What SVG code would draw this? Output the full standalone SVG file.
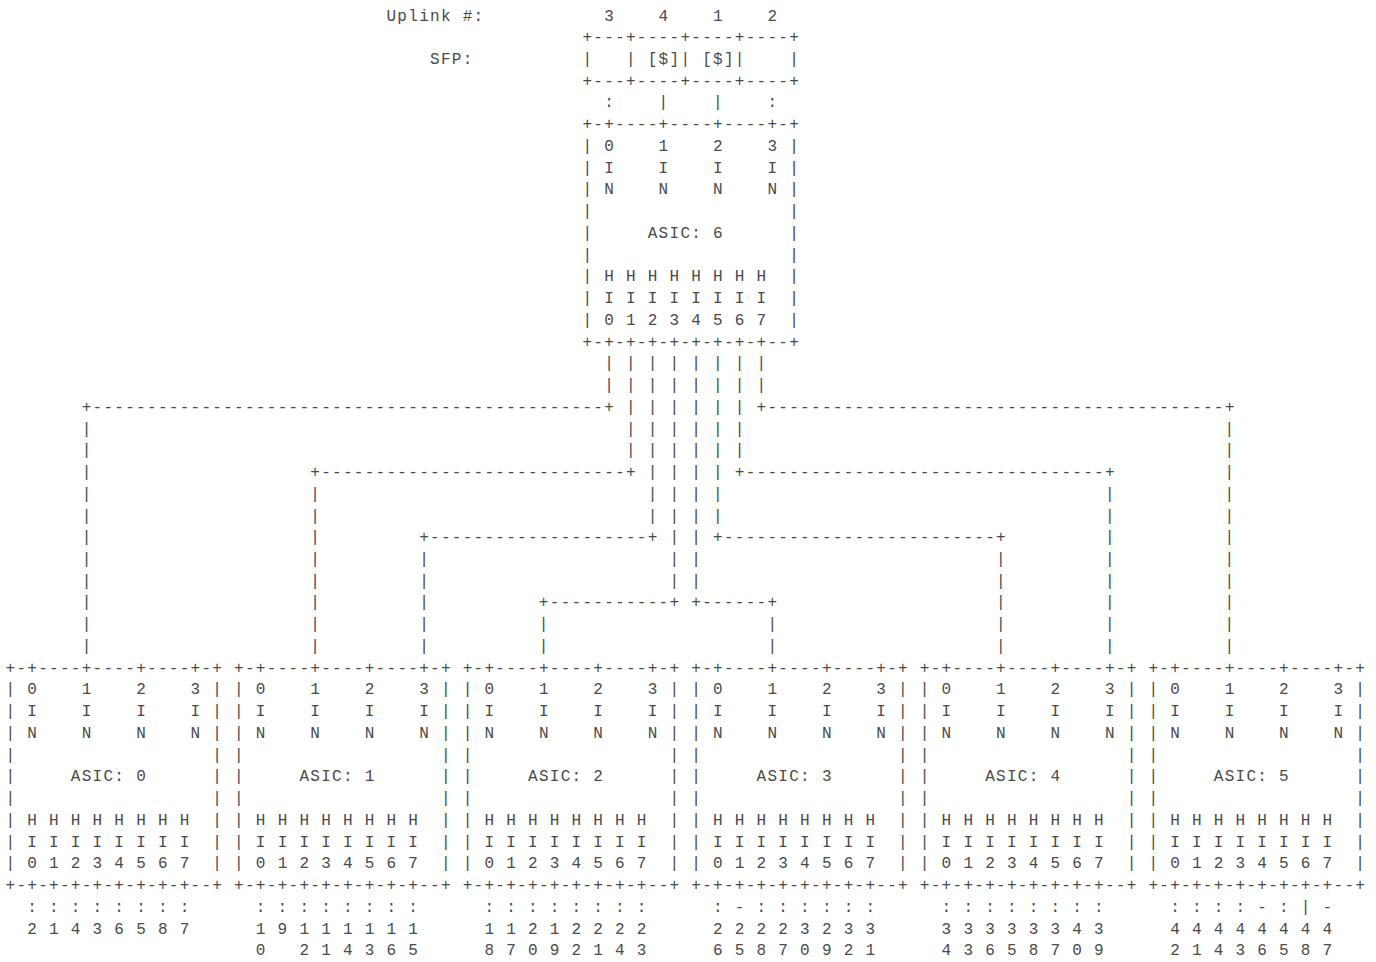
<svg xmlns="http://www.w3.org/2000/svg" width="1376" height="962" viewBox="0 0 1376 962" xml:space="preserve">
<style>
text { font-family: "Liberation Mono", "DejaVu Sans Mono", monospace; font-size: 16px; letter-spacing: 1.285px; fill: #4a4a4a; white-space: pre; }
</style>
<rect width="1376" height="962" fill="#ffffff"/>
<g id="labels">
<text x="386.48" y="20.5">Uplink #:</text>
<text x="604.18" y="20.5">3    4    1    2</text>
<text x="430.02" y="63.98">SFP:</text>
</g>
<g id="sfp" transform="translate(582.41,0)">
<text x="0" y="42.24">+---+----+----+----+</text>
<text x="0" y="63.98">|   | [$]| [$]|    |</text>
<text x="0" y="85.72">+---+----+----+----+</text>
</g>
<g id="asic6" transform="translate(582.41,129.2)">
<text x="0" y="0">+-+----+----+----+-+</text>
<text x="0" y="21.74">| 0    1    2    3 |</text>
<text x="0" y="43.48">| I    I    I    I |</text>
<text x="0" y="65.22">| N    N    N    N |</text>
<text x="0" y="86.96">|                  |</text>
<text x="0" y="108.7">|     ASIC: 6      |</text>
<text x="0" y="130.44">|                  |</text>
<text x="0" y="152.18">| H H H H H H H H  |</text>
<text x="0" y="173.92">| I I I I I I I I  |</text>
<text x="0" y="195.66">| 0 1 2 3 4 5 6 7  |</text>
<text x="0" y="217.4">+-+-+-+-+-+-+-+-+--+</text>
</g>
<g id="connectors">
<text x="604.18" y="107.46">:    |    |    :</text>
<text x="604.18" y="368.34">| | | | | | | |</text>
<text x="604.18" y="390.08">| | | | | | | |</text>
<text x="81.7" y="411.82">+-----------------------------------------------+</text>
<text x="625.95" y="411.82">| | | | | |</text>
<text x="756.57" y="411.82">+------------------------------------------+</text>
<text x="81.7" y="433.56">|</text><text x="625.95" y="433.56">| | | | | |</text><text x="1224.62" y="433.56">|</text>
<text x="81.7" y="455.3">|</text><text x="625.95" y="455.3">| | | | | |</text><text x="1224.62" y="455.3">|</text>
<text x="81.7" y="477.04">|</text>
<text x="310.28" y="477.04">+----------------------------+</text>
<text x="647.72" y="477.04">| | | |</text>
<text x="734.8" y="477.04">+---------------------------------+</text>
<text x="1224.62" y="477.04">|</text>
<text x="81.7" y="498.78">|</text><text x="310.28" y="498.78">|</text><text x="647.72" y="498.78">| | | |</text><text x="1104.89" y="498.78">|</text><text x="1224.62" y="498.78">|</text>
<text x="81.7" y="520.52">|</text><text x="310.28" y="520.52">|</text><text x="647.72" y="520.52">| | | |</text><text x="1104.89" y="520.52">|</text><text x="1224.62" y="520.52">|</text>
<text x="81.7" y="542.26">|</text><text x="310.28" y="542.26">|</text>
<text x="419.13" y="542.26">+--------------------+</text>
<text x="669.49" y="542.26">| |</text>
<text x="713.03" y="542.26">+-------------------------+</text>
<text x="1104.89" y="542.26">|</text><text x="1224.62" y="542.26">|</text>
<text x="81.7" y="564">|</text><text x="310.28" y="564">|</text><text x="419.13" y="564">|</text><text x="669.49" y="564">| |</text><text x="996.04" y="564">|</text><text x="1104.89" y="564">|</text><text x="1224.62" y="564">|</text>
<text x="81.7" y="585.74">|</text><text x="310.28" y="585.74">|</text><text x="419.13" y="585.74">|</text><text x="669.49" y="585.74">| |</text><text x="996.04" y="585.74">|</text><text x="1104.89" y="585.74">|</text><text x="1224.62" y="585.74">|</text>
<text x="81.7" y="607.48">|</text><text x="310.28" y="607.48">|</text><text x="419.13" y="607.48">|</text>
<text x="538.87" y="607.48">+-----------+</text>
<text x="691.26" y="607.48">+------+</text>
<text x="996.04" y="607.48">|</text><text x="1104.89" y="607.48">|</text><text x="1224.62" y="607.48">|</text>
<text x="81.7" y="629.22">|</text><text x="310.28" y="629.22">|</text><text x="419.13" y="629.22">|</text><text x="538.87" y="629.22">|</text><text x="767.45" y="629.22">|</text><text x="996.04" y="629.22">|</text><text x="1104.89" y="629.22">|</text><text x="1224.62" y="629.22">|</text>
<text x="81.7" y="650.96">|</text><text x="310.28" y="650.96">|</text><text x="419.13" y="650.96">|</text><text x="538.87" y="650.96">|</text><text x="767.45" y="650.96">|</text><text x="996.04" y="650.96">|</text><text x="1104.89" y="650.96">|</text><text x="1224.62" y="650.96">|</text>
</g>
<g id="asic0" transform="translate(5.5,672.7)">
<text x="0" y="0">+-+----+----+----+-+</text>
<text x="0" y="21.74">| 0    1    2    3 |</text>
<text x="0" y="43.48">| I    I    I    I |</text>
<text x="0" y="65.22">| N    N    N    N |</text>
<text x="0" y="86.96">|                  |</text>
<text x="0" y="108.7">|     ASIC: 0      |</text>
<text x="0" y="130.44">|                  |</text>
<text x="0" y="152.18">| H H H H H H H H  |</text>
<text x="0" y="173.92">| I I I I I I I I  |</text>
<text x="0" y="195.66">| 0 1 2 3 4 5 6 7  |</text>
<text x="0" y="217.4">+-+-+-+-+-+-+-+-+--+</text>
<text x="21.77" y="239.14">: : : : : : : :</text>
<text x="21.77" y="260.88">2 1 4 3 6 5 8 7</text>
</g>
<g id="asic1" transform="translate(234.085,672.7)">
<text x="0" y="0">+-+----+----+----+-+</text>
<text x="0" y="21.74">| 0    1    2    3 |</text>
<text x="0" y="43.48">| I    I    I    I |</text>
<text x="0" y="65.22">| N    N    N    N |</text>
<text x="0" y="86.96">|                  |</text>
<text x="0" y="108.7">|     ASIC: 1      |</text>
<text x="0" y="130.44">|                  |</text>
<text x="0" y="152.18">| H H H H H H H H  |</text>
<text x="0" y="173.92">| I I I I I I I I  |</text>
<text x="0" y="195.66">| 0 1 2 3 4 5 6 7  |</text>
<text x="0" y="217.4">+-+-+-+-+-+-+-+-+--+</text>
<text x="21.77" y="239.14">: : : : : : : :</text>
<text x="21.77" y="260.88">1 9 1 1 1 1 1 1</text>
<text x="21.77" y="282.62">0   2 1 4 3 6 5</text>
</g>
<g id="asic2" transform="translate(462.67,672.7)">
<text x="0" y="0">+-+----+----+----+-+</text>
<text x="0" y="21.74">| 0    1    2    3 |</text>
<text x="0" y="43.48">| I    I    I    I |</text>
<text x="0" y="65.22">| N    N    N    N |</text>
<text x="0" y="86.96">|                  |</text>
<text x="0" y="108.7">|     ASIC: 2      |</text>
<text x="0" y="130.44">|                  |</text>
<text x="0" y="152.18">| H H H H H H H H  |</text>
<text x="0" y="173.92">| I I I I I I I I  |</text>
<text x="0" y="195.66">| 0 1 2 3 4 5 6 7  |</text>
<text x="0" y="217.4">+-+-+-+-+-+-+-+-+--+</text>
<text x="21.77" y="239.14">: : : : : : : :</text>
<text x="21.77" y="260.88">1 1 2 1 2 2 2 2</text>
<text x="21.77" y="282.62">8 7 0 9 2 1 4 3</text>
</g>
<g id="asic3" transform="translate(691.255,672.7)">
<text x="0" y="0">+-+----+----+----+-+</text>
<text x="0" y="21.74">| 0    1    2    3 |</text>
<text x="0" y="43.48">| I    I    I    I |</text>
<text x="0" y="65.22">| N    N    N    N |</text>
<text x="0" y="86.96">|                  |</text>
<text x="0" y="108.7">|     ASIC: 3      |</text>
<text x="0" y="130.44">|                  |</text>
<text x="0" y="152.18">| H H H H H H H H  |</text>
<text x="0" y="173.92">| I I I I I I I I  |</text>
<text x="0" y="195.66">| 0 1 2 3 4 5 6 7  |</text>
<text x="0" y="217.4">+-+-+-+-+-+-+-+-+--+</text>
<text x="21.77" y="239.14">: - : : : : : :</text>
<text x="21.77" y="260.88">2 2 2 2 3 2 3 3</text>
<text x="21.77" y="282.62">6 5 8 7 0 9 2 1</text>
</g>
<g id="asic4" transform="translate(919.84,672.7)">
<text x="0" y="0">+-+----+----+----+-+</text>
<text x="0" y="21.74">| 0    1    2    3 |</text>
<text x="0" y="43.48">| I    I    I    I |</text>
<text x="0" y="65.22">| N    N    N    N |</text>
<text x="0" y="86.96">|                  |</text>
<text x="0" y="108.7">|     ASIC: 4      |</text>
<text x="0" y="130.44">|                  |</text>
<text x="0" y="152.18">| H H H H H H H H  |</text>
<text x="0" y="173.92">| I I I I I I I I  |</text>
<text x="0" y="195.66">| 0 1 2 3 4 5 6 7  |</text>
<text x="0" y="217.4">+-+-+-+-+-+-+-+-+--+</text>
<text x="21.77" y="239.14">: : : : : : : :</text>
<text x="21.77" y="260.88">3 3 3 3 3 3 4 3</text>
<text x="21.77" y="282.62">4 3 6 5 8 7 0 9</text>
</g>
<g id="asic5" transform="translate(1148.425,672.7)">
<text x="0" y="0">+-+----+----+----+-+</text>
<text x="0" y="21.74">| 0    1    2    3 |</text>
<text x="0" y="43.48">| I    I    I    I |</text>
<text x="0" y="65.22">| N    N    N    N |</text>
<text x="0" y="86.96">|                  |</text>
<text x="0" y="108.7">|     ASIC: 5      |</text>
<text x="0" y="130.44">|                  |</text>
<text x="0" y="152.18">| H H H H H H H H  |</text>
<text x="0" y="173.92">| I I I I I I I I  |</text>
<text x="0" y="195.66">| 0 1 2 3 4 5 6 7  |</text>
<text x="0" y="217.4">+-+-+-+-+-+-+-+-+--+</text>
<text x="21.77" y="239.14">: : : : - : | -</text>
<text x="21.77" y="260.88">4 4 4 4 4 4 4 4</text>
<text x="21.77" y="282.62">2 1 4 3 6 5 8 7</text>
</g>
</svg>
